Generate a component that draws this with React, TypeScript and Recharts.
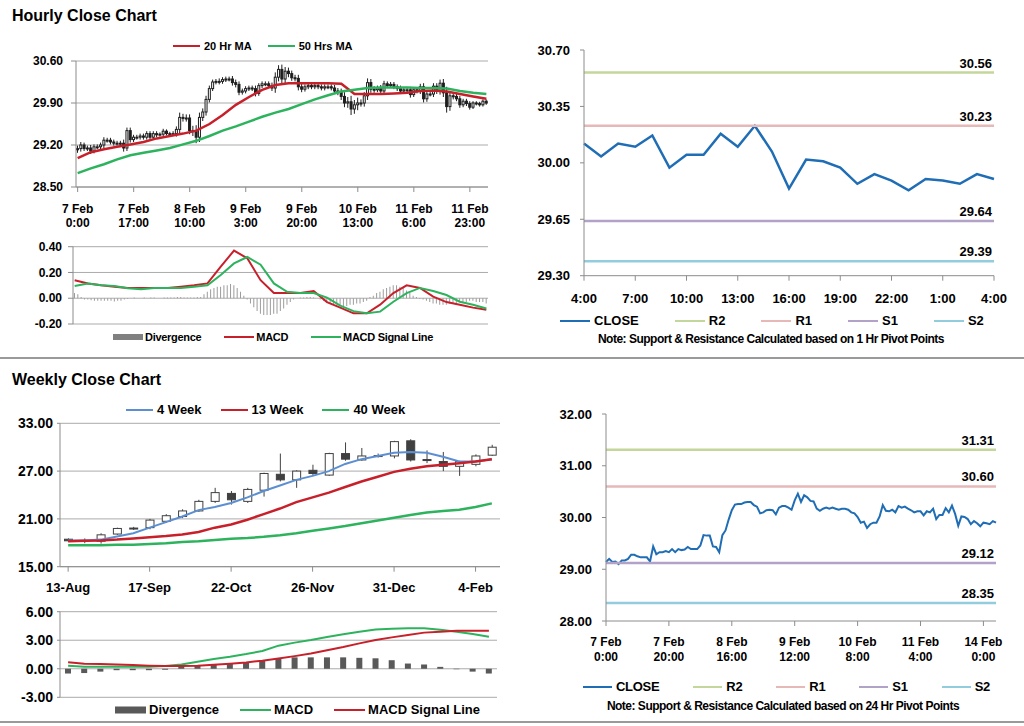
import React from 'react';
import {
  ComposedChart,
  LineChart,
  Line,
  Bar,
  XAxis,
  YAxis,
  CartesianGrid,
  Legend,
  LabelList,
} from 'recharts';

const FONT = "'Liberation Sans', Arial, Helvetica, sans-serif";
const RED = '#c8202a';
const GREEN = '#2db35d';
const BLUE_MA = '#5b8fd2';
const CLOSE_BLUE = '#1f6db5';
const AXIS = '#8c8c8c';
const GRID = '#ababab';

// ---------------- Hourly data (7 Feb 0:00 onwards, one value per hour) ----------------
const hourlyClose = [
  29.14, 29.2, 29.14, 29.15, 29.1, 29.17, 29.17, 29.2, 29.28, 29.28,
  29.25, 29.23, 29.23, 29.23, 29.15, 29.44, 29.29, 29.33, 29.33, 29.35,
  29.33, 29.39, 29.33, 29.39, 29.37, 29.38, 29.43, 29.39, 29.39, 29.39,
  29.46, 29.66, 29.65, 29.65, 29.44, 29.43, 29.33, 29.66, 29.75, 29.96,
  30.14, 30.25, 30.26, 30.26, 30.29, 30.3, 30.3, 30.24, 30.21, 30.08,
  30.1, 30.14, 30.15, 30.14, 30.06, 30.19, 30.22, 30.22, 30.19, 30.15,
  30.33, 30.46, 30.3, 30.43, 30.39, 30.32, 30.31, 30.17, 30.13, 30.17,
  30.19, 30.17, 30.19, 30.17, 30.15, 30.17, 30.17, 30.15, 30.1, 30.08,
  30.01, 29.9, 29.92, 29.8, 29.87, 29.9, 29.9, 30.02, 30.24, 30.13,
  30.12, 30.15, 30.1, 30.22, 30.19, 30.21, 30.17, 30.14, 30.1, 30.12,
  30.12, 30.04, 30.12, 30.1, 30.17, 29.97, 30.05, 30.05, 30.18, 30.1,
  30.23, 30.07, 29.84, 30.02, 30.01, 29.97, 29.87, 29.93, 29.89, 29.83,
  29.9, 29.89, 29.87, 29.93, 29.9,
];
const hourlyFirstOpen = 29.12; // each later candle opens at the previous close
const hourlyWick = [
  0.05, 0.05, 0.04, 0.04, 0.05, 0.04, 0.04, 0.04, 0.05, 0.04,
  0.04, 0.04, 0.04, 0.04, 0.06, 0.05, 0.05, 0.04, 0.04, 0.04,
  0.04, 0.04, 0.04, 0.04, 0.04, 0.03, 0.04, 0.03, 0.03, 0.04,
  0.05, 0.08, 0.06, 0.06, 0.06, 0.08, 0.1, 0.08, 0.06, 0.06,
  0.05, 0.04, 0.04, 0.05, 0.04, 0.04, 0.04, 0.05, 0.05, 0.05,
  0.04, 0.04, 0.04, 0.04, 0.05, 0.04, 0.04, 0.04, 0.04, 0.05,
  0.08, 0.07, 0.08, 0.07, 0.06, 0.05, 0.05, 0.06, 0.05, 0.04,
  0.04, 0.04, 0.04, 0.04, 0.04, 0.04, 0.04, 0.04, 0.05, 0.05,
  0.06, 0.07, 0.08, 0.1, 0.08, 0.09, 0.06, 0.06, 0.07, 0.06,
  0.05, 0.04, 0.05, 0.05, 0.04, 0.04, 0.04, 0.04, 0.05, 0.04,
  0.04, 0.05, 0.04, 0.04, 0.05, 0.06, 0.05, 0.04, 0.05, 0.05,
  0.06, 0.07, 0.1, 0.07, 0.05, 0.04, 0.05, 0.04, 0.04, 0.04,
  0.03, 0.03, 0.03, 0.03, 0.03,
];
// moving averages / MACD read every 4 hours
const HOURLY_SAMPLE_STEP = 4;
const hourlyMA20 = [
  28.98, 29.08, 29.13, 29.17, 29.21, 29.25, 29.31, 29.35, 29.39, 29.44, 29.55,
  29.7, 29.87, 30.0, 30.12, 30.2, 30.23, 30.23, 30.23, 30.23, 30.22, 30.05,
  30.05, 30.05, 30.06, 30.07, 30.1, 30.11, 30.09, 30.05, 30.01, 29.97,
];
const hourlyMA50 = [
  28.73, 28.81, 28.88, 28.96, 29.03, 29.07, 29.11, 29.15, 29.21, 29.27, 29.35,
  29.44, 29.51, 29.59, 29.67, 29.74, 29.8, 29.88, 29.96, 30.03, 30.09, 30.12,
  30.15, 30.16, 30.16, 30.16, 30.15, 30.15, 30.14, 30.1, 30.07, 30.05,
];
const hourlyMACD = [
  0.14, 0.115, 0.1, 0.09, 0.08, 0.08, 0.08, 0.08, 0.09, 0.1, 0.115,
  0.245, 0.37, 0.31, 0.14, 0.04, 0.04, 0.04, 0.056, -0.03, -0.073, -0.117,
  -0.117, -0.05, 0.04, 0.1, 0.08, 0.012, -0.03, -0.05, -0.073, -0.09,
];
const hourlySignal = [
  0.095, 0.115, 0.1, 0.095, 0.077, 0.07, 0.08, 0.08, 0.08, 0.09, 0.1,
  0.18, 0.27, 0.32, 0.26, 0.115, 0.05, 0.04, 0.04, 0.005, -0.058, -0.1,
  -0.117, -0.104, -0.027, 0.04, 0.08, 0.056, 0.025, -0.027, -0.05, -0.08,
];
const hourlyDivergence = [
  0.04, 0.03, 0.01, -0.01, -0.01, -0.015, -0.02, -0.02, -0.02, -0.02,
  -0.02, -0.02, -0.025, -0.02, -0.02, -0.01, -0.005, 0, 0.005, 0,
  0, 0.005, 0, 0.005, 0.005, 0, 0, 0.005, 0.005, 0.005,
  0.005, 0.01, 0.01, 0.005, 0.005, 0.005, 0.005, 0.01, 0.01, 0.03,
  0.05, 0.07, 0.08, 0.09, 0.09, 0.1, 0.1, 0.11, 0.1, 0.08,
  0.05, 0.02, -0.01, -0.04, -0.07, -0.1, -0.12, -0.13, -0.13, -0.13,
  -0.12, -0.12, -0.1, -0.08, -0.05, -0.03, -0.01, 0, 0.005, 0.005,
  0.01, 0.01, 0.005, 0, -0.01, -0.02, -0.03, -0.04, -0.05, -0.05,
  -0.05, -0.06, -0.06, -0.05, -0.05, -0.04, -0.04, -0.03, -0.02, 0.01,
  0.02, 0.04, 0.05, 0.07, 0.08, 0.09, 0.1, 0.1, 0.09, 0.08,
  0.06, 0.04, 0.02, 0.01, -0.005, -0.01, -0.02, -0.03, -0.04, -0.04,
  -0.05, -0.05, -0.05, -0.04, -0.04, -0.04, -0.03, -0.03, -0.03, -0.02,
  -0.02, -0.03, -0.03, -0.03, -0.04,
];
const HOURLY_TICK_STEP = 17;
const hourlyTickLabels = [
  ['7 Feb', '0:00'], ['7 Feb', '17:00'], ['8 Feb', '10:00'], ['9 Feb', '3:00'],
  ['9 Feb', '20:00'], ['10 Feb', '13:00'], ['11 Feb', '6:00'], ['11 Feb', '23:00'],
];

// ---------------- Pivot charts ----------------
const levelNames = ['R2', 'R1', 'S1', 'S2'];
const levelColors = ['#c3d69b', '#e6b9b8', '#b3a2c7', '#93cddd'];
const pivot1Levels = [30.56, 30.23, 29.64, 29.39];
const pivot24Levels = [31.31, 30.6, 29.12, 28.35];
const PIVOT1_HOURS = 25; // last 25 hours
const PIVOT1_TICK_STEP = 3;
const pivot1TickLabels = ['4:00', '7:00', '10:00', '13:00', '16:00', '19:00', '22:00', '1:00', '4:00'];
const PIVOT24_TICK_STEP = 20;
const pivot24TickLabels = [
  ['7 Feb', '0:00'], ['7 Feb', '20:00'], ['8 Feb', '16:00'], ['9 Feb', '12:00'],
  ['10 Feb', '8:00'], ['11 Feb', '4:00'], ['14 Feb', '0:00'],
];

// ---------------- Weekly data ----------------
const weeklyLabels = [
  '13-Aug', '20-Aug', '27-Aug', '3-Sep', '10-Sep', '17-Sep', '24-Sep', '1-Oct', '8-Oct',
  '15-Oct', '22-Oct', '29-Oct', '5-Nov', '12-Nov', '19-Nov', '26-Nov', '3-Dec', '10-Dec',
  '17-Dec', '24-Dec', '31-Dec', '7-Jan', '14-Jan', '21-Jan', '28-Jan', '4-Feb', '11-Feb',
];
const weeklyOpen = [18.45, 18.25, 18.2, 19.1, 19.8, 19.9, 20.7, 21.3, 22.0, 23.2, 24.2, 23.2, 24.6, 26.6, 25.9, 27.1, 26.5, 29.2, 28.4, 28.9, 28.9, 30.8, 28.45, 28.2, 27.6, 27.85, 29.0];
const weeklyClose = [18.25, 18.3, 19.0, 19.8, 19.85, 20.85, 21.4, 22.0, 23.2, 24.3, 23.4, 24.7, 26.7, 25.9, 27.0, 26.7, 29.2, 28.5, 28.9, 28.95, 30.7, 28.4, 28.35, 27.6, 28.2, 28.9, 30.0];
const weeklyHigh = [18.55, 18.55, 19.2, 19.9, 20.0, 21.0, 21.6, 22.2, 23.4, 24.9, 24.5, 24.9, 26.8, 29.2, 27.1, 27.8, 29.3, 30.6, 29.9, 29.2, 30.8, 31.0, 29.6, 29.4, 28.3, 29.1, 30.3];
const weeklyLow = [18.1, 17.95, 17.9, 19.0, 19.6, 19.7, 20.5, 21.1, 21.9, 23.0, 22.8, 23.0, 23.8, 25.7, 24.9, 26.4, 26.4, 28.3, 28.3, 28.7, 28.6, 28.2, 28.0, 27.0, 26.4, 27.6, 28.9];
const weekly4 = [18.3, 18.3, 18.4, 18.8, 19.2, 19.9, 20.6, 21.3, 22.1, 22.5, 23.0, 23.7, 24.5, 25.2, 25.9, 26.4, 27.0, 27.9, 28.5, 28.9, 29.3, 29.4, 29.3, 28.8, 28.2, 28.2, 28.5];
const weekly13 = [18.2, 18.25, 18.3, 18.4, 18.55, 18.7, 18.85, 19.05, 19.35, 19.9, 20.3, 20.9, 21.6, 22.3, 23.1, 23.7, 24.3, 25.0, 25.7, 26.3, 26.9, 27.3, 27.6, 27.8, 28.0, 28.2, 28.5];
const weekly40 = [17.7, 17.7, 17.7, 17.75, 17.75, 17.85, 17.95, 18.1, 18.2, 18.35, 18.5, 18.6, 18.75, 18.95, 19.2, 19.5, 19.8, 20.1, 20.45, 20.8, 21.15, 21.5, 21.8, 22.0, 22.15, 22.5, 22.95];
const weeklyDivergence = [-0.5, -0.45, -0.3, -0.15, -0.15, -0.15, -0.1, 0.3, 0.3, 0.45, 0.55, 0.65, 0.9, 1.1, 1.2, 1.2, 1.2, 1.2, 1.15, 1.1, 0.9, 0.55, 0.45, 0.2, -0.05, -0.3, -0.5];
const weeklyMACD = [0.33, 0.22, 0.22, 0.22, 0.22, 0.22, 0.3, 0.46, 0.74, 1.03, 1.27, 1.55, 1.87, 2.43, 2.75, 3.02, 3.35, 3.62, 3.9, 4.14, 4.22, 4.25, 4.25, 4.1, 3.9, 3.65, 3.37];
const weeklySignal = [0.68, 0.54, 0.5, 0.46, 0.39, 0.33, 0.3, 0.28, 0.32, 0.42, 0.53, 0.67, 0.85, 1.09, 1.33, 1.6, 1.95, 2.29, 2.67, 3.02, 3.3, 3.55, 3.8, 3.9, 4.0, 4.0, 4.0];
const WEEKLY_TICK_STEP = 5;

// ---------------- Tables built from the arrays ----------------
const sampled = (arr: number[], i: number) =>
  i % HOURLY_SAMPLE_STEP === 0 ? arr[i / HOURLY_SAMPLE_STEP] : null;

const hourlyRows = hourlyClose.map((close, i) => {
  const open = i === 0 ? hourlyFirstOpen : hourlyClose[i - 1];
  const high = Math.max(open, close) + hourlyWick[i];
  const low = Math.min(open, close) - hourlyWick[i];
  return {
    i, open, close, high, low, range: [low, high],
    ma20: sampled(hourlyMA20, i), ma50: sampled(hourlyMA50, i),
    macd: sampled(hourlyMACD, i), sig: sampled(hourlySignal, i),
    div: hourlyDivergence[i],
  };
});

const levelFields = (levels: number[]) => {
  const o: Record<string, number> = {};
  levels.forEach((v, k) => { o['l' + k] = v; });
  return o;
};

const pivot1Rows = hourlyClose.slice(-PIVOT1_HOURS).map((close, i) => ({ i, close, ...levelFields(pivot1Levels) }));
const pivot24Rows = hourlyClose.map((close, i) => ({ i, close, ...levelFields(pivot24Levels) }));

const weeklyRows = weeklyLabels.map((label, i) => ({
  i, label,
  open: weeklyOpen[i], close: weeklyClose[i], high: weeklyHigh[i], low: weeklyLow[i],
  range: [weeklyLow[i], weeklyHigh[i]],
  w4: weekly4[i], w13: weekly13[i], w40: weekly40[i],
  div: weeklyDivergence[i], macd: weeklyMACD[i], sig: weeklySignal[i],
}));

// ---------------- Render helpers ----------------
const candleShape = (bodyW: number, color: string) => (props: any) => {
  const { x, y, width, height, payload } = props;
  if (x == null || y == null) return <g />;
  const { open, close, high, low } = payload;
  const cx = x + width / 2;
  const span = high - low;
  const toY = (v: number) => (span === 0 ? y : y + ((high - v) / span) * height);
  const yo = toY(open);
  const yc = toY(close);
  const top = Math.min(yo, yc);
  const bh = Math.max(1, Math.abs(yc - yo));
  const up = close >= open;
  return (
    <g>
      <line x1={cx} x2={cx} y1={y} y2={y + height} stroke={color} strokeWidth={1} />
      <rect x={cx - bodyW / 2} y={top} width={bodyW} height={bh} fill={up ? '#ffffff' : color} stroke={color} strokeWidth={1} />
    </g>
  );
};

const twoLineTick = (labels: string[][], step: number, fontSize: number, dy1: number, dy2: number) => (props: any) => {
  const { x, y, payload } = props;
  const v = Number(payload.value);
  if (v % step !== 0 || !labels[v / step]) return <g />;
  const lab = labels[v / step];
  return (
    <text x={x} y={y} textAnchor="middle" fontSize={fontSize} fontWeight={700} fill="#000" fontFamily={FONT}>
      <tspan x={x} dy={dy1}>{lab[0]}</tspan>
      <tspan x={x} dy={dy2}>{lab[1]}</tspan>
    </text>
  );
};

const oneLineTick = (labels: string[], step: number, fontSize: number, dy: number) => (props: any) => {
  const { x, y, payload } = props;
  const v = Number(payload.value);
  if (v % step !== 0 || !labels[v / step]) return <g />;
  return (
    <text x={x} y={y + dy} textAnchor="middle" fontSize={fontSize} fontWeight={700} fill="#000" fontFamily={FONT}>
      {labels[v / step]}
    </text>
  );
};

const yTick = (fontSize: number) => ({ fontSize, fontWeight: 700, fill: '#000', fontFamily: FONT });

type LegendCfg = {
  order: string[]; swatch: number; gap: number; itemGap: number; fontSize: number;
  rectH?: number; rectColor?: string; spacing?: number;
};
const legendContent = (cfg: LegendCfg) => (props: any) => {
  const items = (props.payload || [])
    .filter((p: any) => p.type !== 'none' && cfg.order.includes(p.value))
    .slice()
    .sort((a: any, b: any) => cfg.order.indexOf(a.value) - cfg.order.indexOf(b.value));
  return (
    <div style={{ display: 'flex', alignItems: 'center', whiteSpace: 'nowrap', fontFamily: FONT, fontWeight: 700, fontSize: cfg.fontSize, color: '#000', lineHeight: '14px', letterSpacing: cfg.spacing ?? 0 }}>
      {items.map((p: any, k: number) => (
        <div key={k} style={{ display: 'flex', alignItems: 'center', marginLeft: k ? cfg.itemGap : 0 }}>
          <svg width={cfg.swatch} height={10} style={{ display: 'block' }}>
            {p.type === 'rect' ? (
              <rect x={0} y={5 - (cfg.rectH ?? 6) / 2} width={cfg.swatch} height={cfg.rectH ?? 6} fill={cfg.rectColor ?? p.color} />
            ) : (
              <line x1={0} x2={cfg.swatch} y1={5} y2={5} stroke={p.color} strokeWidth={2} />
            )}
          </svg>
          <span style={{ marginLeft: cfg.gap }}>{p.value}</span>
        </div>
      ))}
    </div>
  );
};

const levelLabel = (last: number) => (props: any) => {
  const { index, value } = props;
  if (index !== last) return null;
  const vb = props.viewBox || {};
  const x = props.x ?? vb.x;
  const y = props.y ?? vb.y;
  return (
    <text x={x - 2} y={y - 5} textAnchor="end" fontSize={13} fontWeight={700} fill="#000" fontFamily={FONT}>
      {Number(value).toFixed(2)}
    </text>
  );
};

const box = (left: number, top: number): React.CSSProperties => ({ position: 'absolute', left, top });
const titleStyle = (top: number): React.CSSProperties => ({
  position: 'absolute', left: 12, top, fontSize: 16, fontWeight: 700, lineHeight: '18px', color: '#000',
});
const noteStyle = (left: number, top: number, width: number): React.CSSProperties => ({
  position: 'absolute', left, top, width, textAlign: 'center', fontSize: 12, fontWeight: 700,
  letterSpacing: -0.5, lineHeight: '14px', color: '#000', whiteSpace: 'nowrap',
});

const fmt2 = (v: number) => Number(v).toFixed(2);
const pivotLegendOrder = ['CLOSE', ...levelNames];

export default function App() {
  return (
    <div style={{ position: 'absolute', left: 0, top: 0, width: 1024, height: 726, background: '#fff', fontFamily: FONT, overflow: 'hidden' }}>
      <div style={titleStyle(7)}>Hourly Close Chart</div>
      <div style={titleStyle(371)}>Weekly Close Chart</div>
      <div style={{ position: 'absolute', left: 0, top: 357, width: 1024, height: 2, background: '#9a9a9a' }} />
      <div style={{ position: 'absolute', left: 0, top: 721, width: 1024, height: 2, background: '#9a9a9a' }} />

      {/* Hourly candles */}
      <div style={box(0, 30)}>
        <ComposedChart width={500} height={200} data={hourlyRows} margin={{ top: 31, right: 12, bottom: 3, left: 0 }}>
          <CartesianGrid vertical={false} stroke={GRID} />
          <XAxis dataKey="i" type="category" interval={HOURLY_TICK_STEP - 1} height={40} tickSize={5} tickMargin={0}
            axisLine={{ stroke: AXIS }} tickLine={{ stroke: AXIS }}
            tick={twoLineTick(hourlyTickLabels, HOURLY_TICK_STEP, 12, 20.5, 14)} />
          <YAxis type="number" domain={[28.5, 30.6]} ticks={[28.5, 29.2, 29.9, 30.6]} interval={0} width={76}
            tickSize={5} tickMargin={8} axisLine={{ stroke: AXIS }} tickLine={{ stroke: AXIS }}
            tick={yTick(12)} tickFormatter={fmt2} />
          <Bar dataKey="range" legendType="none" barSize={3} shape={candleShape(2, '#1e1e1e')} isAnimationActive={false} />
          <Line dataKey="ma20" name="20 Hr MA" stroke={RED} strokeWidth={2.5} dot={false} activeDot={false} connectNulls isAnimationActive={false} />
          <Line dataKey="ma50" name="50 Hrs MA" stroke={GREEN} strokeWidth={2.5} dot={false} activeDot={false} connectNulls isAnimationActive={false} />
          <Legend layout="horizontal" verticalAlign="middle" align="center"
            wrapperStyle={{ left: 173, top: 9, width: 'auto', height: 'auto' }}
            content={legendContent({ order: ['20 Hr MA', '50 Hrs MA'], swatch: 27, gap: 4, itemGap: 16, fontSize: 11 })} />
        </ComposedChart>
      </div>

      {/* Hourly MACD */}
      <div style={box(0, 230)}>
        <ComposedChart width={500} height={115} data={hourlyRows} margin={{ top: 16.7, right: 12, bottom: 21, left: 0 }}>
          <CartesianGrid vertical={false} stroke={GRID} />
          <XAxis dataKey="i" type="category" hide />
          <YAxis type="number" domain={[-0.2, 0.4]} ticks={[-0.2, 0, 0.2, 0.4]} interval={0} width={73}
            tickSize={5} tickMargin={6} axisLine={{ stroke: AXIS }} tickLine={{ stroke: AXIS }}
            tick={yTick(12)} tickFormatter={fmt2} />
          <Bar dataKey="div" name="Divergence" fill="#9c9c9c" barSize={1} isAnimationActive={false} />
          <Line dataKey="macd" name="MACD" stroke={RED} strokeWidth={2} dot={false} activeDot={false} connectNulls isAnimationActive={false} />
          <Line dataKey="sig" name="MACD Signal Line" stroke={GREEN} strokeWidth={2} dot={false} activeDot={false} connectNulls isAnimationActive={false} />
          <Legend layout="horizontal" verticalAlign="middle" align="center"
            wrapperStyle={{ left: 113, top: 100, width: 'auto', height: 'auto' }}
            content={legendContent({ order: ['Divergence', 'MACD', 'MACD Signal Line'], swatch: 30, gap: 2, itemGap: 23, fontSize: 11, rectH: 6, rectColor: '#808080', spacing: -0.3 })} />
        </ComposedChart>
      </div>

      {/* 1 Hr pivot */}
      <div style={box(520, 30)}>
        <LineChart width={504} height={300} data={pivot1Rows} margin={{ top: 20, right: 30, bottom: 24.3, left: 0 }}>
          <XAxis dataKey="i" type="number" domain={[0, PIVOT1_HOURS - 1]}
            ticks={pivot1TickLabels.map((_, k) => k * PIVOT1_TICK_STEP)} interval={0} height={30}
            tickSize={5} tickMargin={0} axisLine={{ stroke: AXIS }} tickLine={{ stroke: AXIS }}
            tick={oneLineTick(pivot1TickLabels, PIVOT1_TICK_STEP, 13, 22)} />
          <YAxis type="number" domain={[29.3, 30.7]} ticks={[29.3, 29.65, 30.0, 30.35, 30.7]} interval={0} width={64}
            tickSize={4} tickMargin={10} axisLine={{ stroke: AXIS }} tickLine={{ stroke: AXIS }}
            tick={yTick(13)} tickFormatter={fmt2} />
          <Line dataKey="close" name="CLOSE" stroke={CLOSE_BLUE} strokeWidth={2.5} dot={false} activeDot={false} isAnimationActive={false} />
          {levelNames.map((n, k) => (
            <Line key={n} dataKey={'l' + k} name={n} stroke={levelColors[k]} strokeWidth={2.5} dot={false} activeDot={false} isAnimationActive={false}>
              <LabelList dataKey={'l' + k} content={levelLabel(PIVOT1_HOURS - 1)} />
            </Line>
          ))}
          <Legend layout="horizontal" verticalAlign="middle" align="center"
            wrapperStyle={{ left: 40, top: 284, width: 'auto', height: 'auto' }}
            content={legendContent({ order: pivotLegendOrder, swatch: 30, gap: 4, itemGap: 36, fontSize: 13 })} />
        </LineChart>
      </div>
      <div style={noteStyle(560, 332, 422)}>Note: Support &amp; Resistance Calculated based on 1 Hr Pivot Points</div>

      {/* Weekly candles */}
      <div style={box(0, 395)}>
        <ComposedChart width={510} height={210} data={weeklyRows} margin={{ top: 28.3, right: 10, bottom: 13.3, left: 0 }}>
          <CartesianGrid vertical={false} stroke={GRID} />
          <XAxis dataKey="i" type="category" interval={WEEKLY_TICK_STEP - 1} height={25} tickSize={5} tickMargin={0}
            axisLine={{ stroke: AXIS }} tickLine={{ stroke: AXIS }}
            tick={oneLineTick(weeklyLabels.filter((_, k) => k % WEEKLY_TICK_STEP === 0), WEEKLY_TICK_STEP, 13, 20.5)} />
          <YAxis type="number" domain={[15, 33]} ticks={[15, 21, 27, 33]} interval={0} width={60}
            tickSize={3} tickMargin={4} axisLine={{ stroke: AXIS }} tickLine={{ stroke: AXIS }}
            tick={yTick(14)} tickFormatter={fmt2} />
          <Bar dataKey="range" legendType="none" barSize={9} shape={candleShape(8, '#404040')} isAnimationActive={false} />
          <Line dataKey="w4" name="4 Week" stroke={BLUE_MA} strokeWidth={2} dot={false} activeDot={false} isAnimationActive={false} />
          <Line dataKey="w13" name="13 Week" stroke={RED} strokeWidth={2.5} dot={false} activeDot={false} isAnimationActive={false} />
          <Line dataKey="w40" name="40 Week" stroke={GREEN} strokeWidth={2.5} dot={false} activeDot={false} isAnimationActive={false} />
          <Legend layout="horizontal" verticalAlign="middle" align="center"
            wrapperStyle={{ left: 126, top: 8, width: 'auto', height: 'auto' }}
            content={legendContent({ order: ['4 Week', '13 Week', '40 Week'], swatch: 27, gap: 4, itemGap: 19, fontSize: 13 })} />
        </ComposedChart>
      </div>

      {/* Weekly MACD */}
      <div style={box(0, 600)}>
        <ComposedChart width={510} height={120} data={weeklyRows} margin={{ top: 11.7, right: 13, bottom: 22.7, left: 0 }}>
          <CartesianGrid vertical={false} stroke={GRID} />
          <XAxis dataKey="i" type="category" hide />
          <YAxis type="number" domain={[-3, 6]} ticks={[-3, 0, 3, 6]} interval={0} width={60}
            tickSize={3} tickMargin={4} axisLine={{ stroke: AXIS }} tickLine={{ stroke: AXIS }}
            tick={yTick(14)} tickFormatter={fmt2} />
          <Bar dataKey="div" name="Divergence" fill="#595959" barSize={6} isAnimationActive={false} />
          <Line dataKey="macd" name="MACD" stroke={GREEN} strokeWidth={2} dot={false} activeDot={false} isAnimationActive={false} />
          <Line dataKey="sig" name="MACD Signal Line" stroke={RED} strokeWidth={2} dot={false} activeDot={false} isAnimationActive={false} />
          <Legend layout="horizontal" verticalAlign="middle" align="center"
            wrapperStyle={{ left: 115, top: 103, width: 'auto', height: 'auto' }}
            content={legendContent({ order: ['Divergence', 'MACD', 'MACD Signal Line'], swatch: 31, gap: 3, itemGap: 21, fontSize: 13, rectH: 7 })} />
        </ComposedChart>
      </div>

      {/* 24 Hr pivot */}
      <div style={box(520, 395)}>
        <LineChart width={504} height={300} data={pivot24Rows} margin={{ top: 19, right: 28, bottom: 34, left: 0 }}>
          <XAxis dataKey="i" type="number" domain={[0, hourlyClose.length - 1]}
            ticks={pivot24TickLabels.map((_, k) => k * PIVOT24_TICK_STEP)} interval={0} height={40}
            tickSize={5} tickMargin={0} axisLine={{ stroke: AXIS }} tickLine={{ stroke: AXIS }}
            tick={twoLineTick(pivot24TickLabels, PIVOT24_TICK_STEP, 12, 20, 15)} />
          <YAxis type="number" domain={[28, 32]} ticks={[28, 29, 30, 31, 32]} interval={0} width={86}
            tickSize={4} tickMargin={10} axisLine={{ stroke: AXIS }} tickLine={{ stroke: AXIS }}
            tick={yTick(13)} tickFormatter={fmt2} />
          <Line dataKey="close" name="CLOSE" stroke={CLOSE_BLUE} strokeWidth={2} dot={false} activeDot={false} isAnimationActive={false} />
          {levelNames.map((n, k) => (
            <Line key={n} dataKey={'l' + k} name={n} stroke={levelColors[k]} strokeWidth={2.5} dot={false} activeDot={false} isAnimationActive={false}>
              <LabelList dataKey={'l' + k} content={levelLabel(hourlyClose.length - 1)} />
            </Line>
          ))}
          <Legend layout="horizontal" verticalAlign="middle" align="center"
            wrapperStyle={{ left: 63, top: 285, width: 'auto', height: 'auto' }}
            content={legendContent({ order: pivotLegendOrder, swatch: 29, gap: 4, itemGap: 34, fontSize: 13, spacing: -0.3 })} />
        </LineChart>
      </div>
      <div style={noteStyle(572, 699, 422)}>Note: Support &amp; Resistance Calculated based on 24 Hr Pivot Points</div>
    </div>
  );
}
